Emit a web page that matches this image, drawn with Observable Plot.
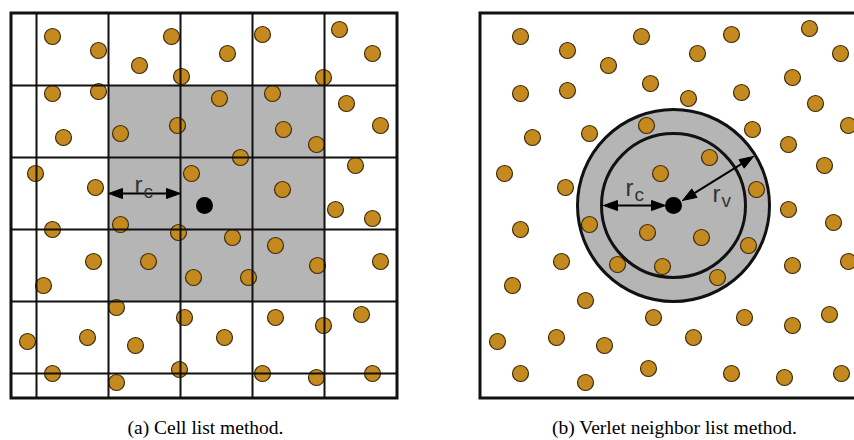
<!DOCTYPE html>
<html>
<head>
<meta charset="utf-8">
<script src="https://cdn.jsdelivr.net/npm/d3@7"></script>
<script src="https://cdn.jsdelivr.net/npm/@observablehq/plot@0.6"></script>
<style>
  html, body { margin: 0; padding: 0; background: #fff; }
</style>
</head>
<body>
<div id="chart"></div>
<script>
// ---- Panel (a): cell list particles ----
const leftX = [52, 98, 139, 171, 181, 227, 262, 339, 372, 323,
  52, 98, 63, 120, 177, 219, 272, 346, 380, 283, 316, 240, 355, 35, 95, 191, 282,
  335, 372, 52, 120, 178, 232, 275, 93, 148, 43, 193, 248, 317, 380,
  116, 184, 275, 323, 361, 27, 87, 135, 224, 52, 116, 179, 262, 316, 372];
const leftY = [36, 50, 65, 36, 76, 53, 34, 29, 53, 77,
  93, 91, 137, 133, 125, 98, 93, 103, 125, 129, 144, 157, 165, 173, 187, 173, 189,
  209, 218, 229, 224, 232, 237, 245, 261, 261, 285, 277, 277, 265, 261,
  307, 317, 317, 325, 314, 341, 337, 345, 337, 373, 382, 369, 373, 377, 373];

// ---- Panel (b): Verlet list particles ----
const rightX = [520, 567, 608, 641, 697, 731, 809, 840, 792,
  520, 567, 650, 688, 741, 815, 848, 532, 589, 646, 752, 788, 709, 824, 504, 565, 660, 756,
  788, 833, 520, 589, 647, 701, 748, 561, 617, 662, 512, 717, 792, 848,
  585, 653, 744, 792, 829, 497, 556, 604, 693, 520, 585, 648, 731, 784, 841];
const rightY = [36, 50, 65, 36, 53, 34, 28, 53, 77,
  93, 90, 83, 98, 92, 103, 125, 137, 133, 125, 129, 144, 157, 165, 173, 187, 173, 189,
  209, 222, 229, 224, 232, 237, 245, 261, 264, 266, 285, 277, 265, 261,
  300, 317, 317, 325, 314, 341, 337, 345, 337, 373, 382, 368, 373, 377, 373];

// ---- Cell grid ----
const gridX = [36, 108, 180, 252, 324];
const gridY = [85, 157, 229, 301, 373];

// ---- Reference particles and radii ----
const centerX = [204, 673];
const centerY = [205, 205];
const cutoffRadius = 72;   // r_c
const verletRadius = 96;   // r_v

// ---- Arrows (double headed) ----
const arrowX1 = [108, 603, 753];
const arrowY1 = [193, 205, 156];
const arrowX2 = [180, 665, 682];
const arrowY2 = [193, 205, 200];

// ---- Labels ----
const labelMain = ["r", "r", "r"];
const labelSub = ["c", "c", "v"];
const labelX = [134, 625, 712];
const labelY = [185, 188, 194];

const captions = ["(a) Cell list method.", "(b) Verlet neighbor list method."];
const captionX = [205, 674];
const captionY = [427, 427];

// ---- Build tables ----
const leftDots = leftX.map((x, i) => ({x, y: leftY[i]}));
const rightDots = rightX.map((x, i) => ({x, y: rightY[i]}));
const centers = centerX.map((x, i) => ({x, y: centerY[i]}));
const arrows = arrowX1.map((x1, i) => ({x1, y1: arrowY1[i], x2: arrowX2[i], y2: arrowY2[i]}));
const labels = labelMain.map((t, i) => ({t, s: labelSub[i], x: labelX[i], y: labelY[i]}));
const caps = captions.map((t, i) => ({t, x: captionX[i], y: captionY[i]}));

const panelA = [{x1: 11, x2: 397, y1: 13, y2: 398}];
const panelB = [{x1: 480, x2: 868, y1: 13, y2: 398}];
const shadedA = [{x1: 108, x2: 324, y1: 85, y2: 301}];

// arrowheads: triangles at both ends, shafts between bases
const HL = 14, HW = 5;
const headPts = [];
const shafts = [];
arrows.forEach((a, k) => {
  const dx = a.x2 - a.x1, dy = a.y2 - a.y1, len = Math.hypot(dx, dy);
  const ux = dx / len, uy = dy / len, nx = -uy, ny = ux;
  const bx2 = a.x2 - HL * ux, by2 = a.y2 - HL * uy;
  headPts.push({id: k + "e", x: a.x2, y: a.y2},
               {id: k + "e", x: bx2 + HW * nx, y: by2 + HW * ny},
               {id: k + "e", x: bx2 - HW * nx, y: by2 - HW * ny},
               {id: k + "e", x: a.x2, y: a.y2});
  const bx1 = a.x1 + HL * ux, by1 = a.y1 + HL * uy;
  headPts.push({id: k + "s", x: a.x1, y: a.y1},
               {id: k + "s", x: bx1 + HW * nx, y: by1 + HW * ny},
               {id: k + "s", x: bx1 - HW * nx, y: by1 - HW * ny},
               {id: k + "s", x: a.x1, y: a.y1});
  shafts.push({x1: bx1, y1: by1, x2: bx2, y2: by2});
});

const dotFill = "#c4891f";
const dotStroke = "#3d2b0c";
const lineColor = "#111";

const chart = Plot.plot({
  width: 854,
  height: 440,
  margin: 0,
  x: {domain: [0, 854], range: [0, 854], axis: null},
  y: {domain: [0, 440], range: [0, 440], axis: null},
  style: {background: "#fff"},
  marks: [
    // panel (a)
    Plot.rect(shadedA, {x1: "x1", x2: "x2", y1: "y1", y2: "y2", fill: "#b5b5b5"}),
    Plot.dot(leftDots, {x: "x", y: "y", r: 8, fill: dotFill, stroke: dotStroke, strokeWidth: 1.2}),
    Plot.ruleX(gridX, {y1: 13, y2: 398, stroke: lineColor, strokeWidth: 2}),
    Plot.ruleY(gridY, {x1: 11, x2: 397, stroke: lineColor, strokeWidth: 2}),
    Plot.rect(panelA, {x1: "x1", x2: "x2", y1: "y1", y2: "y2", fill: "none", stroke: lineColor, strokeWidth: 3}),
    // panel (b)
    Plot.dot(centers.slice(1), {x: "x", y: "y", r: verletRadius, fill: "#b5b5b5"}),
    Plot.dot(rightDots, {x: "x", y: "y", r: 8, fill: dotFill, stroke: dotStroke, strokeWidth: 1.2}),
    Plot.dot(centers.slice(1), {x: "x", y: "y", r: verletRadius, fill: "none", stroke: lineColor, strokeWidth: 3}),
    Plot.dot(centers.slice(1), {x: "x", y: "y", r: cutoffRadius, fill: "none", stroke: lineColor, strokeWidth: 3}),
    Plot.rect(panelB, {x1: "x1", x2: "x2", y1: "y1", y2: "y2", fill: "none", stroke: lineColor, strokeWidth: 3}),
    // reference particles
    Plot.dot(centers, {x: "x", y: "y", r: 8.5, fill: "#000"}),
    // arrows
    Plot.link(shafts, {x1: "x1", y1: "y1", x2: "x2", y2: "y2", stroke: "#000", strokeWidth: 2}),
    Plot.line(headPts, {x: "x", y: "y", z: "id", fill: "#000", stroke: "#000", strokeWidth: 1}),
    // labels
    Plot.text(labels, {x: "x", y: "y", text: "t", fontSize: 24, fill: "#333", textAnchor: "start", fontFamily: "Liberation Sans, Arial, sans-serif"}),
    Plot.text(labels, {x: "x", y: "y", text: "s", dx: 9, dy: 6, fontSize: 19, fill: "#333", textAnchor: "start", fontFamily: "Liberation Sans, Arial, sans-serif"}),
    // captions
    Plot.text(caps, {x: "x", y: "y", text: "t", fontSize: 19.5, fill: "#000", textAnchor: "middle", fontFamily: "Liberation Serif, Times New Roman, serif"})
  ]
});
document.getElementById("chart").appendChild(chart);
</script>
</body>
</html>
